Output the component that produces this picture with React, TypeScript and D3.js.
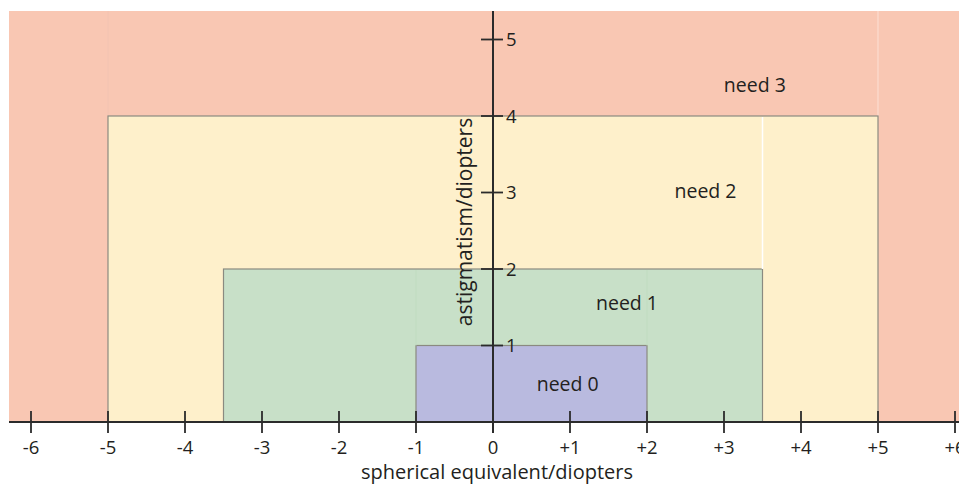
import React from "react";
import * as d3 from "d3";

const xTicks = [-6, -5, -4, -3, -2, -1, 0, 1, 2, 3, 4, 5, 6];
const xTickLabels = ["-6", "-5", "-4", "-3", "-2", "-1", "0", "+1", "+2", "+3", "+4", "+5", "+6"];
const yTicks = [1, 2, 3, 4, 5];
const yTickLabels = ["1", "2", "3", "4", "5"];

const zoneNames = ["need 2", "need 1", "need 0"];
const zoneX0 = [-5, -3.5, -1];
const zoneX1 = [5, 3.5, 2];
const zoneY1 = [4, 2, 1];
const zoneColors = ["#FEF0CB", "#C8E0C8", "#B9BADF"];

const labelNames = ["need 3", "need 2", "need 1", "need 0"];
const labelX = [3.4, 2.76, 1.74, 0.97];
const labelY = [4.4, 3.02, 1.55, 0.5];

const W = 959;
const H = 487;
const font = "'Open Sans', 'Noto Sans', sans-serif";

export default function App() {
  const x = d3.scaleLinear().domain([-6, 6]).range([31, 955]);
  const y = d3.scaleLinear().domain([0, 5]).range([422, 39.5]);
  const axisColor = "#2b2b2b";
  const top = 11;
  return (
    <svg width={W} height={H} style={{ position: "absolute", left: 0, top: 0 }}>
      <rect x={9} y={top} width={W - 9} height={y(0) - top} fill="#F9C7B3" />
      <line x1={x(-5)} x2={x(-5)} y1={top} y2={y(4)} stroke="#F2C3B2" strokeWidth={1} />
      <line x1={x(5)} x2={x(5)} y1={top} y2={y(4)} stroke="#FCE0D5" strokeWidth={1} />
      {zoneNames.map((n, i) => (
        <rect
          key={n}
          x={x(zoneX0[i])}
          y={y(zoneY1[i])}
          width={x(zoneX1[i]) - x(zoneX0[i])}
          height={y(0) - y(zoneY1[i])}
          fill={zoneColors[i]}
          stroke="#8a8a80"
          strokeWidth={1.2}
        />
      ))}
      <line x1={x(3.5)} x2={x(3.5)} y1={y(4) + 1} y2={y(2)} stroke="#ffffff" strokeWidth={1.5} />
      <line x1={x(-1)} x2={x(-1)} y1={y(2) + 1} y2={y(1)} stroke="#C0DCC0" strokeWidth={1} />
      <line x1={x(2)} x2={x(2)} y1={y(2) + 1} y2={y(1)} stroke="#C0DCC0" strokeWidth={1} />

      <line x1={9} x2={W} y1={y(0)} y2={y(0)} stroke={axisColor} strokeWidth={2} />
      {xTicks.map((t, i) => (
        <g key={t}>
          {t !== 0 && (
            <line x1={x(t)} x2={x(t)} y1={y(0) - 11} y2={y(0) + 11} stroke={axisColor} strokeWidth={1.8} />
          )}
          <text x={x(t)} y={454} textAnchor="middle" fontFamily={font} fontSize={18.5} fill="#231f20">
            {xTickLabels[i]}
          </text>
        </g>
      ))}
      <line x1={x(0)} x2={x(0)} y1={top} y2={y(0) + 11} stroke={axisColor} strokeWidth={2} />
      {yTicks.map((t, i) => (
        <g key={t}>
          <line x1={x(0) - 12} x2={x(0) + 10} y1={y(t)} y2={y(t)} stroke={axisColor} strokeWidth={1.8} />
          <text x={x(0) + 13} y={y(t)} dy="0.36em" fontFamily={font} fontSize={18.5} fill="#231f20">
            {yTickLabels[i]}
          </text>
        </g>
      ))}
      {labelNames.map((n, i) => (
        <text
          key={n}
          x={x(labelX[i])}
          y={y(labelY[i])}
          dy="0.36em"
          textAnchor="middle"
          fontFamily={font}
          fontSize={19.5}
          fill="#231f20"
        >
          {n}
        </text>
      ))}
      <text x={497} y={479} textAnchor="middle" fontFamily={font} fontSize={20} fill="#231f20">
        spherical equivalent/diopters
      </text>
      <text
        transform={`translate(472, 222) rotate(-90)`}
        textAnchor="middle"
        fontFamily={font}
        fontSize={21}
        fill="#231f20"
      >
        astigmatism/diopters
      </text>
    </svg>
  );
}
